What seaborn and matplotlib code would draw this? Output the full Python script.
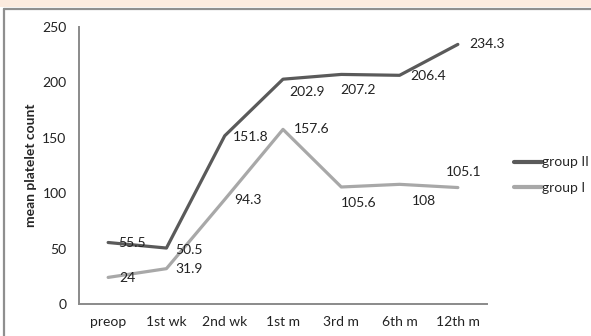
import matplotlib
matplotlib.use("Agg")
import matplotlib.pyplot as plt
import seaborn as sns
import pandas as pd
from matplotlib.patches import Rectangle
from matplotlib.lines import Line2D

# --- data -------------------------------------------------------------
periods = ["preop", "1st wk", "2nd wk", "1st m", "3rd m", "6th m", "12th m"]
group_ii = [55.5, 50.5, 151.8, 202.9, 207.2, 206.4, 234.3]
group_i = [24, 31.9, 94.3, 157.6, 105.6, 108, 105.1]
y_ticks = [0, 50, 100, 150, 200, 250]

# label offsets in pixels (dx right, dy down) relative to each point
off_ii = [(24, 0), (23, 2), (26, 1), (24, 13), (17, 16), (29, 1), (29, 0)]
off_i = [(19, 1), (23, 0), (23, 0), (29, 0), (17, 16), (24, 17), (6, -16)]

df = pd.DataFrame({
    "period": periods * 2,
    "count": group_ii + group_i,
    "group": ["group II"] * len(periods) + ["group I"] * len(periods),
})

sns.set_theme(style="white")
plt.rcParams["font.family"] = ["Lato", "DejaVu Sans"]

W, H = 591, 336
FS = 10
fig = plt.figure(figsize=(W / 100, H / 100), dpi=100)
fig.patch.set_facecolor("white")

# page band and outer frame
fig.add_artist(Rectangle((0, 1 - 7 / H), 1, 7 / H, transform=fig.transFigure,
                         facecolor="#fcebdf", edgecolor="none"))
fig.add_artist(Line2D([3.5 / W, 1], [1 - 9 / H, 1 - 9 / H], transform=fig.transFigure,
                      color="#8f8f8f", lw=1.6))
fig.add_artist(Line2D([3.5 / W, 3.5 / W], [0, 1 - 9 / H], transform=fig.transFigure,
                      color="#8f8f8f", lw=1.6))

ax = fig.add_axes([79 / W, (H - 304) / H, (487 - 79) / W, (304 - 27) / H])
ax.set_facecolor("none")

palette = {"group II": "#5a5a5a", "group I": "#a8a8a8"}
sns.lineplot(data=df, x="period", y="count", hue="group",
             hue_order=["group II", "group I"], palette=palette,
             sort=False, linewidth=2.3, ax=ax)

ax.set_xlim(-0.5, len(periods) - 0.5)
ax.set_ylim(0, 250)
ax.set_yticks(y_ticks)
ax.set_xlabel("")
ax.set_ylabel("mean platelet count", fontsize=FS, fontweight="bold", labelpad=4)
ax.tick_params(axis="both", length=0, labelsize=FS, colors="#222222")
ax.tick_params(axis="x", pad=9)
ax.tick_params(axis="y", pad=9)
for side in ["top", "right"]:
    ax.spines[side].set_visible(False)
for side in ["left", "bottom"]:
    ax.spines[side].set_color("#8a8a8a")
    ax.spines[side].set_linewidth(1.4)

px = 0.72  # points per pixel at 100 dpi
for series, offs in ((group_ii, off_ii), (group_i, off_i)):
    for i, (v, (dx, dy)) in enumerate(zip(series, offs)):
        ax.annotate(f"{v:g}", (i, v), xytext=(dx * px, -dy * px),
                    textcoords="offset points", ha="center", va="center",
                    fontsize=FS, color="#222222")

sns.move_legend(ax, loc="center left", bbox_to_anchor=(507 / W, 1 - 175 / H),
                bbox_transform=fig.transFigure, frameon=False, title=None,
                fontsize=FS, handlelength=2.0, handletextpad=0.05,
                labelspacing=0.95, borderpad=0)
for line in ax.get_legend().get_lines():
    line.set_linewidth(3)

fig.savefig("out.png", dpi=100)
